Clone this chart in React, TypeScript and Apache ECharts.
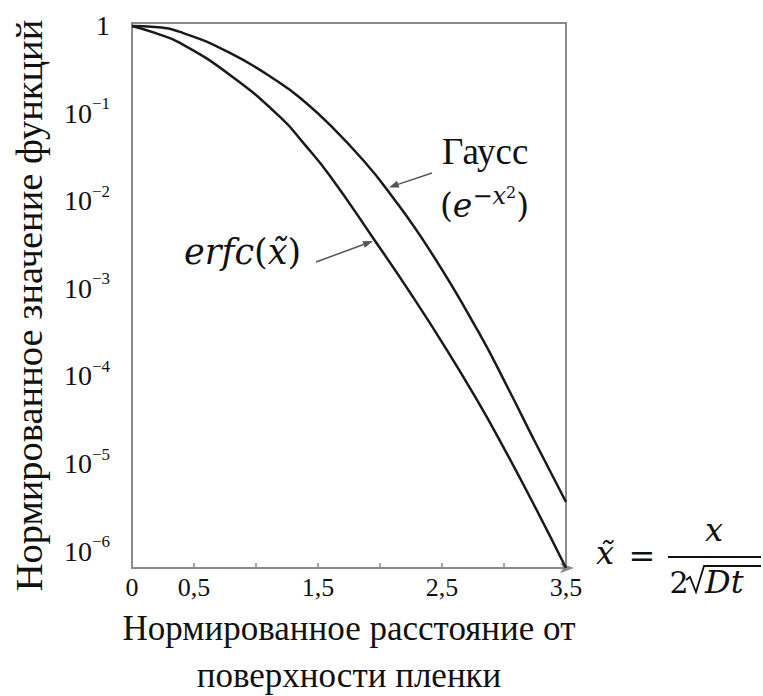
import React, { useEffect, useRef } from "react";
import * as echarts from "echarts";

// Gauss curve (e^{-x^2}) values
const gaussX = [0, 0.185, 0.387, 0.79, 1.194, 1.395, 1.597, 1.863, 2.056, 2.403, 2.79, 3.048, 3.234, 3.5];
const gaussY = [1, 0.974, 0.854, 0.491, 0.223, 0.1353, 0.0739, 0.0294, 0.01353, 2.71e-3, 3.27e-4, 6.56e-5, 1.96e-5, 3.63e-6];
// erfc curve values
const erfcX = [0, 0.185, 0.387, 0.79, 1.194, 1.395, 1.597, 1.944, 2.266, 2.54, 2.782, 2.968, 3.234, 3.5];
const erfcY = [1, 0.832, 0.639, 0.275, 0.0912, 0.0437, 0.0193, 3.78e-3, 8.0e-4, 1.98e-4, 5.32e-5, 1.81e-5, 3.54e-6, 6.4e-7];

const xLabelValues = [0, 0.5, 1.5, 2.5, 3.5];
const yLabelValues = [1, 1e-1, 1e-2, 1e-3, 1e-4, 1e-5, 1e-6];

const SERIF = "'Liberation Serif', 'Times New Roman', serif";
const MATH = "'DejaVu Serif', serif";

export default function App() {
  const ref = useRef<HTMLDivElement>(null);

  useEffect(() => {
    if (!ref.current) return;
    const chart = echarts.init(ref.current, undefined, { renderer: "svg" });

    const gaussData = gaussX.map((x, i) => [x, gaussY[i]]);
    const erfcData = erfcX.map((x, i) => [x, erfcY[i]]);

    const arrowColor = "#555";
    const textColor = "#111";

    chart.setOption({
      animation: false,
      backgroundColor: "#fff",
      textStyle: { fontFamily: SERIF },
      grid: {
        left: 132,
        right: 197,
        top: 23,
        bottom: 128,
        containLabel: false,
        outerBoundsMode: "none",
        show: true,
        borderColor: "#8a8a8a",
        borderWidth: 2,
      },
      xAxis: {
        type: "value",
        min: 0,
        max: 3.5,
        interval: 0.5,
        name: "Нормированное расстояние от\nповерхности пленки",
        nameLocation: "middle",
        nameGap: 36,
        nameTextStyle: {
          fontFamily: SERIF,
          fontSize: 35,
          color: textColor,
          lineHeight: 47,
        },
        axisLine: {
          show: true,
          symbol: ["none", "arrow"],
          symbolSize: [8, 14],
          symbolOffset: [0, 8],
          lineStyle: { color: "#8a8a8a", width: 2 },
        },
        axisTick: {
          show: true,
          inside: true,
          length: 5,
          lineStyle: { color: "#8a8a8a", width: 1.5 },
        },
        axisLabel: {
          customValues: xLabelValues,
          fontFamily: SERIF,
          fontSize: 26,
          color: textColor,
          margin: 6,
          formatter: (v: number) => String(v).replace(".", ","),
        },
        splitLine: { show: false },
      },
      yAxis: {
        type: "log",
        logBase: 10,
        min: 6.4e-7,
        max: 1.08,
        name: "Нормированное значение функций",
        nameLocation: "middle",
        nameGap: 84,
        nameTextStyle: {
          fontFamily: SERIF,
          fontSize: 38.5,
          color: textColor,
          padding: [0, 20, 0, 0],
        },
        axisLine: {
          show: true,
          lineStyle: { color: "#8a8a8a", width: 2 },
        },
        axisTick: { show: false },
        splitLine: { show: false },
        axisLabel: {
          customValues: yLabelValues,
          margin: 22,
          color: textColor,
          fontFamily: SERIF,
          formatter: (v: number) => {
            const e = Math.round(Math.log10(v));
            if (e === 0) return "{b|1}";
            return "{b|10}{s|−" + Math.abs(e) + "}";
          },
          rich: {
            b: { fontFamily: SERIF, fontSize: 28, lineHeight: 36, color: textColor },
            s: {
              fontFamily: SERIF,
              fontSize: 17,
              lineHeight: 20,
              verticalAlign: "top",
              color: textColor,
            },
          },
        },
      },
      series: [
        {
          name: "Гаусс",
          type: "line",
          data: gaussData,
          showSymbol: false,
          symbol: "none",
          smooth: 0.5,
          lineStyle: { color: "#1a1a1a", width: 2.5 },
        },
        {
          name: "erfc",
          type: "line",
          data: erfcData,
          showSymbol: false,
          symbol: "none",
          smooth: 0.5,
          lineStyle: { color: "#1a1a1a", width: 2.5 },
        },
      ],
      graphic: [
        // Gauss label
        {
          type: "text",
          x: 442,
          y: 151,
          style: {
            text: "Гаусс",
            fontFamily: SERIF,
            fontSize: 37,
            fill: textColor,
            verticalAlign: "middle",
          },
        },
        {
          type: "text",
          x: 440,
          y: 205,
          style: {
            text: "{p|(}{e|e}{s|−x}{t|2}{p|)}",
            verticalAlign: "middle",
            fill: textColor,
            rich: {
              p: { fontFamily: MATH, fontSize: 33, lineHeight: 42, fill: textColor },
              e: { fontFamily: MATH, fontStyle: "italic", fontSize: 33, lineHeight: 42, fill: textColor },
              s: {
                fontFamily: MATH,
                fontStyle: "italic",
                fontSize: 24,
                lineHeight: 28,
                verticalAlign: "top",
                fill: textColor,
              },
              t: {
                fontFamily: MATH,
                fontSize: 16,
                lineHeight: 18,
                verticalAlign: "top",
                fill: textColor,
              },
            },
          },
        },
        // Gauss arrow
        {
          type: "line",
          shape: { x1: 432, y1: 173, x2: 398, y2: 184.4 },
          style: { stroke: arrowColor, lineWidth: 1.5 },
        },
        {
          type: "polygon",
          shape: { points: [[389, 187.5], [399.5, 187.6], [397, 180.8]] },
          style: { fill: arrowColor },
        },
        // erfc label
        {
          type: "text",
          x: 184,
          y: 252,
          style: {
            text: "{e|erfc}{p|(}{e|x̃}{p|)}",
            verticalAlign: "middle",
            fill: textColor,
            rich: {
              e: { fontFamily: MATH, fontStyle: "italic", fontSize: 35, lineHeight: 42, fill: textColor },
              p: { fontFamily: MATH, fontSize: 35, lineHeight: 42, fill: textColor },
            },
          },
        },
        // erfc arrow
        {
          type: "line",
          shape: { x1: 316, y1: 262, x2: 363.6, y2: 244.5 },
          style: { stroke: arrowColor, lineWidth: 1.5 },
        },
        {
          type: "polygon",
          shape: { points: [[373, 241], [364.8, 247.8], [362.4, 241.2]] },
          style: { fill: arrowColor },
        },
        // x̃ = x / (2√Dt)
        {
          type: "text",
          x: 605,
          y: 553,
          style: {
            text: "x̃",
            fontFamily: MATH,
            fontStyle: "italic",
            fontSize: 32,
            fill: textColor,
            align: "center",
            verticalAlign: "middle",
          },
        },
        {
          type: "text",
          x: 642,
          y: 556,
          style: {
            text: "=",
            fontFamily: MATH,
            fontSize: 32,
            fill: textColor,
            align: "center",
            verticalAlign: "middle",
          },
        },
        {
          type: "line",
          shape: { x1: 668, y1: 557, x2: 761, y2: 557 },
          style: { stroke: textColor, lineWidth: 2 },
        },
        {
          type: "text",
          x: 714,
          y: 530,
          style: {
            text: "x",
            fontFamily: MATH,
            fontStyle: "italic",
            fontSize: 32,
            fill: textColor,
            align: "center",
            verticalAlign: "middle",
          },
        },
        {
          type: "text",
          x: 679,
          y: 582,
          style: {
            text: "2",
            fontFamily: MATH,
            fontSize: 30,
            fill: textColor,
            align: "center",
            verticalAlign: "middle",
          },
        },
        {
          type: "polyline",
          shape: { points: [[686, 580], [690, 577], [696, 592], [704, 566], [761, 566]] },
          style: { stroke: textColor, lineWidth: 1.8, fill: "none" },
        },
        {
          type: "text",
          x: 705,
          y: 582,
          style: {
            text: "Dt",
            fontFamily: MATH,
            fontStyle: "italic",
            fontSize: 32,
            fill: textColor,
            verticalAlign: "middle",
          },
        },
      ],
    });

    return () => {
      chart.dispose();
    };
  }, []);

  return (
    <div
      ref={ref}
      style={{ position: "absolute", left: 0, top: 0, width: 763, height: 696 }}
    />
  );
}
